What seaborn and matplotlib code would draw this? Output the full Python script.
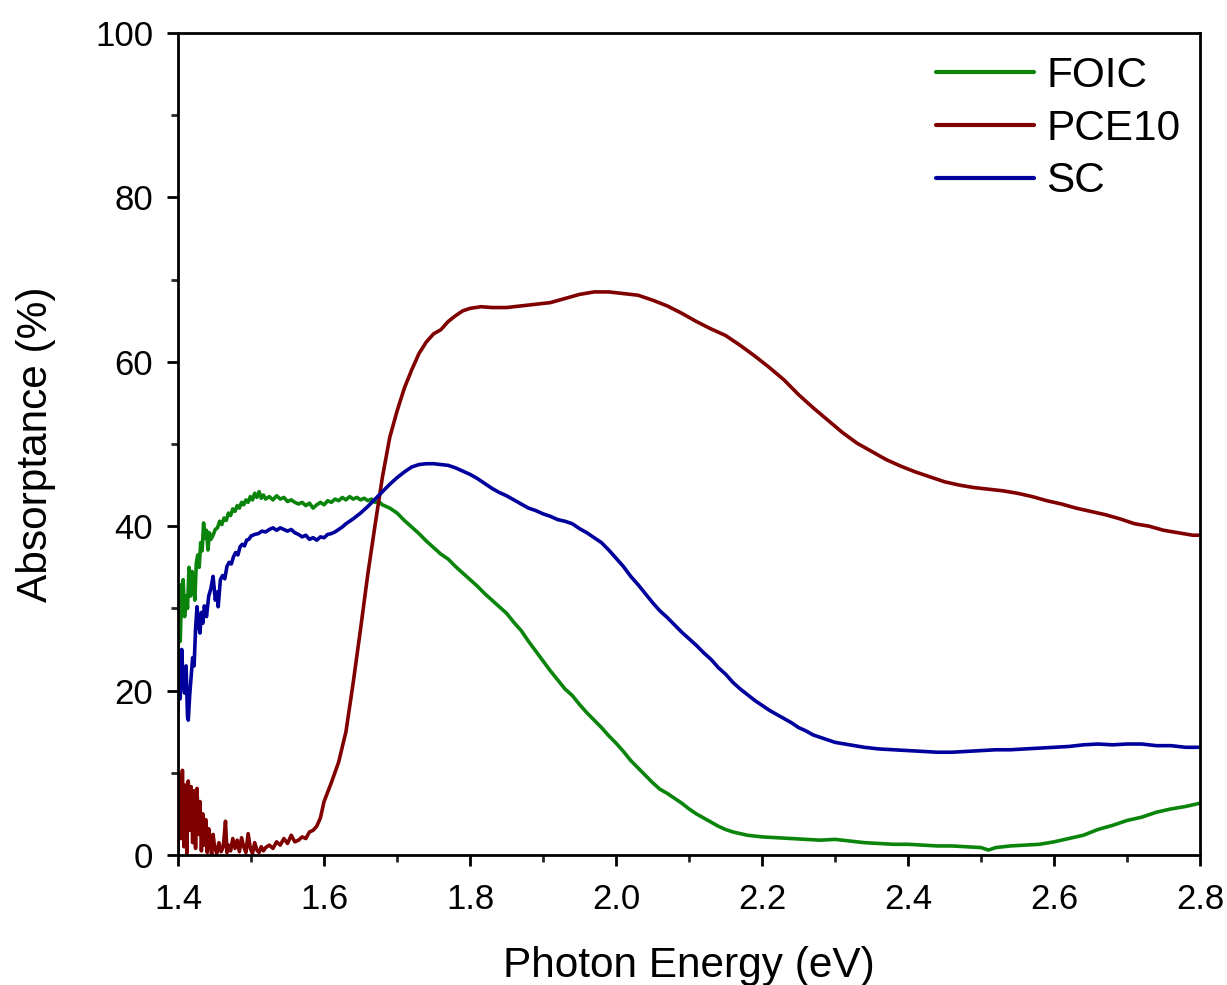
import numpy as np
import pandas as pd
import matplotlib
matplotlib.use("Agg")
import matplotlib.pyplot as plt
import seaborn as sns
from matplotlib.ticker import MultipleLocator, FormatStrFormatter

# ---------------- data ----------------
foic_x = [1.400, 1.401, 1.403, 1.405, 1.407, 1.409, 1.411, 1.413, 1.415, 1.417, 1.419, 1.421,
          1.423, 1.425, 1.427, 1.429, 1.431, 1.433, 1.435, 1.437, 1.439, 1.441, 1.443, 1.445,
          1.448, 1.451, 1.454, 1.457, 1.460, 1.463, 1.466, 1.469, 1.472, 1.475, 1.478, 1.481,
          1.484, 1.487, 1.490, 1.493, 1.496, 1.499, 1.502, 1.505, 1.508, 1.511, 1.514, 1.517,
          1.520, 1.525, 1.530, 1.535, 1.540, 1.545, 1.550, 1.555, 1.560, 1.565, 1.570, 1.575,
          1.580, 1.585, 1.590, 1.595, 1.600, 1.605, 1.610, 1.615, 1.620, 1.625, 1.630, 1.635,
          1.640, 1.645, 1.650, 1.655, 1.660, 1.665, 1.670, 1.675, 1.680, 1.690, 1.700, 1.710,
          1.720, 1.730, 1.740, 1.750, 1.760, 1.770, 1.780, 1.790, 1.800, 1.810, 1.820, 1.830,
          1.840, 1.850, 1.860, 1.870, 1.880, 1.890, 1.900, 1.910, 1.920, 1.930, 1.940, 1.950,
          1.960, 1.970, 1.980, 1.990, 2.000, 2.010, 2.020, 2.030, 2.040, 2.050, 2.060, 2.070,
          2.080, 2.090, 2.100, 2.110, 2.120, 2.130, 2.140, 2.150, 2.160, 2.170, 2.180, 2.190,
          2.200, 2.220, 2.240, 2.260, 2.280, 2.300, 2.320, 2.340, 2.360, 2.380, 2.400, 2.420,
          2.440, 2.460, 2.480, 2.500, 2.510, 2.520, 2.540, 2.560, 2.580, 2.600, 2.620, 2.640,
          2.660, 2.680, 2.700, 2.720, 2.740, 2.760, 2.780, 2.800]
foic_y = [22.0, 33.0, 26.0, 32.0, 33.5, 29.0, 31.5, 30.0, 35.0, 31.5, 34.5, 33.0,
          31.0, 35.5, 36.5, 35.0, 38.0, 37.0, 40.4, 38.5, 39.5, 37.1, 39.2, 38.4,
          38.9, 39.6, 39.8, 40.6, 40.2, 41.0, 40.7, 41.6, 41.3, 42.1, 41.8, 42.5,
          42.2, 42.9, 42.6, 43.2, 42.9, 43.6, 43.2, 44.0, 43.5, 44.2, 43.4, 43.8,
          43.3, 43.6, 43.2, 43.7, 43.3, 43.5, 43.0, 43.2, 42.9, 42.7, 42.9, 42.5,
          42.8, 42.2, 42.6, 42.9, 42.6, 43.1, 42.9, 43.3, 43.1, 43.5, 43.2, 43.6,
          43.3, 43.5, 43.2, 43.4, 43.1, 43.3, 42.9, 43.0, 42.6, 42.2, 41.6, 40.7,
          39.9, 39.1, 38.2, 37.4, 36.6, 36.0, 35.1, 34.3, 33.5, 32.7, 31.8, 31.0,
          30.2, 29.4, 28.3, 27.3, 26.0, 24.8, 23.6, 22.4, 21.3, 20.2, 19.4, 18.3,
          17.3, 16.4, 15.5, 14.5, 13.6, 12.6, 11.5, 10.6, 9.7, 8.8, 8.0, 7.5,
          6.9, 6.3, 5.6, 5.0, 4.5, 4.0, 3.5, 3.1, 2.8, 2.6, 2.4, 2.3,
          2.2, 2.1, 2.0, 1.9, 1.8, 1.9, 1.7, 1.5, 1.4, 1.3, 1.3, 1.2,
          1.1, 1.1, 1.0, 0.9, 0.6, 0.9, 1.1, 1.2, 1.3, 1.6, 2.0, 2.4,
          3.1, 3.6, 4.2, 4.6, 5.2, 5.6, 5.9, 6.3]

pce10_x = [1.400, 1.402, 1.404, 1.406, 1.408, 1.410, 1.412, 1.414, 1.416, 1.418, 1.420, 1.422,
           1.424, 1.426, 1.428, 1.430, 1.432, 1.434, 1.436, 1.438, 1.440, 1.442, 1.444, 1.446,
           1.448, 1.450, 1.453, 1.456, 1.459, 1.462, 1.465, 1.467, 1.469, 1.472, 1.475, 1.478,
           1.481, 1.484, 1.487, 1.490, 1.493, 1.496, 1.499, 1.502, 1.505, 1.508, 1.511, 1.514,
           1.517, 1.520, 1.525, 1.530, 1.535, 1.540, 1.545, 1.550, 1.555, 1.560, 1.565, 1.570,
           1.575, 1.580, 1.585, 1.590, 1.595, 1.600, 1.610, 1.620, 1.630, 1.640, 1.650, 1.660,
           1.670, 1.680, 1.690, 1.700, 1.710, 1.720, 1.730, 1.740, 1.750, 1.760, 1.770, 1.780,
           1.790, 1.800, 1.815, 1.830, 1.850, 1.870, 1.890, 1.910, 1.930, 1.950, 1.970, 1.990,
           2.010, 2.030, 2.050, 2.070, 2.090, 2.110, 2.130, 2.150, 2.170, 2.190, 2.210, 2.230,
           2.250, 2.270, 2.290, 2.310, 2.330, 2.350, 2.370, 2.390, 2.410, 2.430, 2.450, 2.470,
           2.490, 2.510, 2.530, 2.550, 2.570, 2.590, 2.610, 2.630, 2.650, 2.670, 2.690, 2.710,
           2.730, 2.750, 2.770, 2.790, 2.800]
pce10_y = [0.5, 9.8, 2.0, 10.3, 1.0, 8.5, 0.2, 9.0, 3.0, 8.3, 1.5, 7.8,
           0.8, 8.1, 2.5, 6.5, 0.5, 5.0, 1.2, 4.3, 0.3, 3.2, 1.8, 0.0,
           2.5, 1.0, 0.2, 1.5, 0.4, 1.0, 4.1, 0.3, 1.2, 0.5, 2.0, 0.8,
           1.8, 0.4, 2.1, 1.0, 0.3, 2.6, 0.8, 0.2, 1.5, 0.6, 0.3, 1.0,
           0.5, 0.9, 1.2, 0.8, 1.6, 1.2, 2.0, 1.4, 2.4, 1.6, 1.8, 2.2,
           2.0, 2.8, 3.0, 3.5, 4.5, 6.5, 8.8, 11.3, 15.0, 21.0, 27.5, 34.2,
           40.2, 46.0, 50.8, 54.0, 56.8, 59.0, 61.0, 62.4, 63.4, 63.9, 64.9, 65.6,
           66.2, 66.5, 66.7, 66.6, 66.6, 66.8, 67.0, 67.2, 67.7, 68.2, 68.5, 68.5,
           68.3, 68.1, 67.5, 66.8, 65.9, 64.9, 64.0, 63.2, 62.0, 60.7, 59.3, 57.8,
           56.0, 54.4, 52.9, 51.4, 50.1, 49.1, 48.1, 47.3, 46.6, 46.0, 45.4, 45.0,
           44.7, 44.5, 44.3, 44.0, 43.6, 43.1, 42.7, 42.2, 41.8, 41.4, 40.9, 40.3,
           40.0, 39.5, 39.2, 38.9, 38.9]

sc_x = [1.400, 1.401, 1.403, 1.405, 1.407, 1.409, 1.411, 1.413, 1.414, 1.416, 1.418, 1.420,
        1.422, 1.424, 1.426, 1.428, 1.430, 1.432, 1.434, 1.436, 1.439, 1.442, 1.445, 1.448,
        1.451, 1.454, 1.455, 1.458, 1.461, 1.464, 1.467, 1.470, 1.473, 1.476, 1.479, 1.482,
        1.485, 1.488, 1.491, 1.494, 1.497, 1.500, 1.505, 1.510, 1.515, 1.520, 1.525, 1.530,
        1.535, 1.540, 1.545, 1.550, 1.555, 1.560, 1.565, 1.570, 1.575, 1.580, 1.585, 1.590,
        1.595, 1.600, 1.605, 1.610, 1.615, 1.620, 1.625, 1.630, 1.640, 1.650, 1.660, 1.670,
        1.680, 1.690, 1.700, 1.710, 1.720, 1.730, 1.740, 1.750, 1.760, 1.770, 1.780, 1.790,
        1.800, 1.810, 1.820, 1.830, 1.840, 1.850, 1.860, 1.870, 1.880, 1.890, 1.900, 1.910,
        1.920, 1.930, 1.940, 1.950, 1.960, 1.970, 1.980, 1.990, 2.000, 2.010, 2.020, 2.030,
        2.040, 2.050, 2.060, 2.070, 2.080, 2.090, 2.100, 2.110, 2.120, 2.130, 2.140, 2.150,
        2.160, 2.170, 2.180, 2.190, 2.200, 2.210, 2.220, 2.230, 2.240, 2.250, 2.260, 2.270,
        2.280, 2.290, 2.300, 2.320, 2.340, 2.360, 2.380, 2.400, 2.420, 2.440, 2.460, 2.480,
        2.500, 2.520, 2.540, 2.560, 2.580, 2.600, 2.620, 2.640, 2.660, 2.680, 2.700, 2.720,
        2.740, 2.760, 2.780, 2.800]
sc_y = [17.5, 24.0, 19.0, 25.0, 21.0, 19.7, 23.0, 16.8, 16.4, 19.5, 21.7, 24.0,
        23.0, 27.5, 30.2, 28.0, 27.0, 29.5, 28.2, 30.3, 29.0, 31.5, 32.4, 33.9,
        31.0, 32.0, 30.2, 33.5, 34.0, 33.6, 35.1, 35.6, 35.4, 36.3, 36.8, 36.5,
        37.5, 37.8, 37.6, 38.3, 38.4, 38.8, 39.0, 39.1, 39.4, 39.3, 39.6, 39.8,
        39.5, 39.8, 39.6, 39.4, 39.6, 39.2, 39.0, 38.7, 38.9, 38.4, 38.6, 38.3,
        38.7, 38.6, 39.0, 39.1, 39.3, 39.6, 39.9, 40.3, 40.9, 41.6, 42.4, 43.3,
        44.2, 45.1, 45.9, 46.6, 47.2, 47.5, 47.6, 47.6, 47.5, 47.4, 47.1, 46.7,
        46.3, 45.8, 45.2, 44.6, 44.1, 43.7, 43.2, 42.7, 42.2, 41.9, 41.5, 41.2,
        40.8, 40.6, 40.3, 39.7, 39.2, 38.6, 38.0, 37.1, 36.1, 35.1, 33.9, 32.9,
        31.8, 30.7, 29.7, 28.9, 28.0, 27.1, 26.3, 25.5, 24.6, 23.8, 22.8, 22.0,
        21.0, 20.2, 19.5, 18.8, 18.2, 17.6, 17.1, 16.6, 16.1, 15.5, 15.1, 14.6,
        14.3, 14.0, 13.7, 13.4, 13.1, 12.9, 12.8, 12.7, 12.6, 12.5, 12.5, 12.6,
        12.7, 12.8, 12.8, 12.9, 13.0, 13.1, 13.2, 13.4, 13.5, 13.4, 13.5, 13.5,
        13.3, 13.3, 13.1, 13.1]

series_names = ["FOIC", "PCE10", "SC"]
series_colors = ["#0b840b", "#800000", "#00009c"]
x_ticks = [1.4, 1.6, 1.8, 2.0, 2.2, 2.4, 2.6, 2.8]
y_ticks = [0, 20, 40, 60, 80, 100]
x_label = "Photon Energy (eV)"
y_label = "Absorptance (%)"

# ---------------- plotting ----------------
sns.set_style("ticks")
plt.rcParams["font.family"] = ["Liberation Sans", "DejaVu Sans"]
plt.rcParams["text.color"] = "black"
plt.rcParams["axes.labelcolor"] = "black"

fig = plt.figure(figsize=(12.27, 9.85), dpi=100)
ax = fig.add_axes([0.1451, 0.132, 0.8330, 0.8345])

data = [(foic_x, foic_y), (pce10_x, pce10_y), (sc_x, sc_y)]
for (xs, ys), name, col in zip(data, series_names, series_colors):
    df = pd.DataFrame({"E": xs, "A": ys})
    sns.lineplot(data=df, x="E", y="A", ax=ax, color=col, linewidth=2.6,
                 label=name, estimator=None, sort=False)

ax.set_xlim(1.4, 2.8)
ax.set_ylim(0, 100)
ax.set_xticks(x_ticks)
ax.set_yticks(y_ticks)
ax.xaxis.set_major_formatter(FormatStrFormatter("%.1f"))
ax.xaxis.set_minor_locator(MultipleLocator(0.1))
ax.yaxis.set_minor_locator(MultipleLocator(10))

for s in ax.spines.values():
    s.set_linewidth(2.0)
    s.set_color("black")

ax.tick_params(axis="both", which="major", direction="out", length=8, width=2.0,
               labelsize=25, colors="black", labelcolor="black", top=False, right=False)
ax.tick_params(axis="x", which="major", pad=12)
ax.tick_params(axis="y", which="major", pad=10)
ax.tick_params(axis="both", which="minor", direction="out", length=5, width=2.0,
               top=False, right=False)

ax.set_xlabel(x_label, fontsize=30.5, labelpad=22, color="black")
ax.set_ylabel(y_label, fontsize=30.5, labelpad=28, color="black")

leg = ax.legend(loc="upper left", bbox_to_anchor=(0.742, 0.972), frameon=False,
                fontsize=30.5, handlelength=2.3, handletextpad=0.3, labelspacing=0.3,
                borderpad=0, borderaxespad=0)
for line in leg.get_lines():
    line.set_linewidth(3.0)
for t in leg.get_texts():
    t.set_color("black")

fig.savefig("out.png", dpi=100)
